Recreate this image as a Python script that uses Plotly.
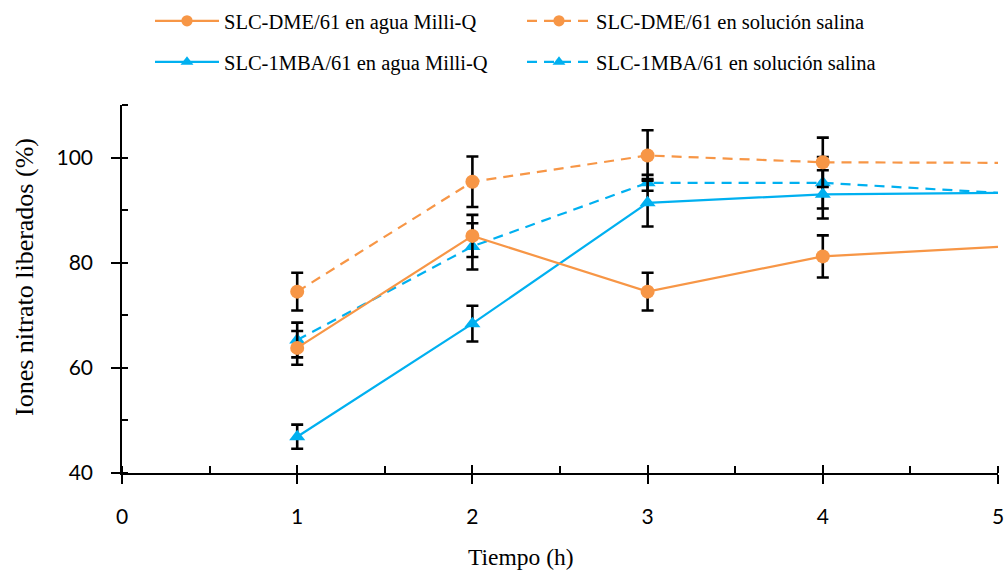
import plotly.graph_objects as go

# Release time (h)
tiempo = [1, 2, 3, 4, 5]

# Nitrate ions released (%); standard deviations exist for the first four samples
dme_milliq = [63.8, 85.1, 74.5, 81.2, 83.0]
dme_milliq_err = [3.2, 4.0, 3.6, 4.0]
dme_salina = [74.5, 95.4, 100.4, 99.1, 99.0]
dme_salina_err = [3.6, 4.8, 4.8, 4.7]
mba_milliq = [46.9, 68.4, 91.4, 93.0, 93.3]
mba_milliq_err = [2.3, 3.4, 4.5, 4.6]
mba_salina = [65.3, 83.1, 95.2, 95.2, 93.3]
mba_salina_err = [3.3, 4.4, 1.5, 4.9]

x_ticks = [0, 1, 2, 3, 4, 5]
y_ticks = [40, 60, 80, 100]

ORANGE = "#F79646"
BLUE = "#00B0F0"
SERIF = "Liberation Serif"
SANS = "Lato"

# the last sample point is drawn without a marker
marker_sizes = [14, 14, 14, 14, 0]


def series(name, y, err, color, symbol, dash, legend, rank):
    return go.Scatter(
        x=tiempo, y=y, name=name, mode="lines+markers",
        line=dict(color=color, width=2.2, dash=dash),
        marker=dict(color=color, symbol=symbol, size=marker_sizes,
                    opacity=1, line=dict(width=0)),
        error_y=dict(type="data", array=err, visible=True,
                     color="black", thickness=2.6, width=6),
        legend=legend, legendrank=rank,
    )


fig = go.Figure()
fig.add_trace(series("SLC-1MBA/61 en solución salina", mba_salina, mba_salina_err,
                     BLUE, "triangle-up", "10px,7px", "legend2", 2))
fig.add_trace(series("SLC-1MBA/61 en agua Milli-Q", mba_milliq, mba_milliq_err,
                     BLUE, "triangle-up", "solid", "legend2", 1))
fig.add_trace(series("SLC-DME/61 en solución salina", dme_salina, dme_salina_err,
                     ORANGE, "circle", "10px,7px", "legend", 2))
fig.add_trace(series("SLC-DME/61 en agua Milli-Q", dme_milliq, dme_milliq_err,
                     ORANGE, "circle", "solid", "legend", 1))

# empty trace carrying the overlay axes that draw the inner half of the major ticks
fig.add_trace(go.Scatter(x=[], y=[], xaxis="x2", yaxis="y2",
                         showlegend=False, hoverinfo="skip"))

tick_font = dict(family=SANS, size=21, color="black")
legend_font = dict(family=SERIF, size=20.5, color="black")

fig.update_layout(
    width=1006, height=575,
    margin=dict(l=122, r=8, t=105, b=102, autoexpand=False),
    paper_bgcolor="white", plot_bgcolor="white",
    showlegend=True,
    xaxis=dict(
        range=[0, 5], tickvals=x_ticks, ticktext=[str(v) for v in x_ticks],
        ticks="outside", ticklen=9, tickwidth=1.6, tickcolor="black",
        showline=True, linecolor="black", linewidth=1.6,
        showgrid=False, zeroline=False, tickfont=tick_font,
        ticklabelstandoff=15, automargin=False,
        minor=dict(dtick=0.5, tick0=0, ticks="inside", ticklen=7,
                   tickwidth=1.6, tickcolor="black", showgrid=False),
    ),
    yaxis=dict(
        range=[40, 110], tickvals=y_ticks, ticktext=[str(v) for v in y_ticks],
        ticks="outside", ticklen=9, tickwidth=1.6, tickcolor="black",
        showline=True, linecolor="black", linewidth=1.6,
        showgrid=False, zeroline=False, tickfont=tick_font,
        ticklabelstandoff=14, automargin=False,
        minor=dict(dtick=10, tick0=40, ticks="inside", ticklen=6,
                   tickwidth=1.6, tickcolor="black", showgrid=False),
    ),
    xaxis2=dict(
        overlaying="x", anchor="y2", side="bottom", range=[0, 5],
        tickvals=x_ticks, ticks="inside", ticklen=8, tickwidth=1.6,
        tickcolor="black", showticklabels=False, showline=False,
        showgrid=False, zeroline=False, automargin=False,
    ),
    yaxis2=dict(
        overlaying="y", anchor="x2", side="left", range=[40, 110],
        tickvals=y_ticks, ticks="inside", ticklen=6, tickwidth=1.6,
        tickcolor="black", showticklabels=False, showline=False,
        showgrid=False, zeroline=False, automargin=False,
    ),
    legend=dict(
        orientation="h", xref="container", yref="container",
        x=150 / 1006, xanchor="left", y=1 - 21 / 575, yanchor="middle",
        font=legend_font, entrywidth=293, itemwidth=64,
        bgcolor="rgba(0,0,0,0)", traceorder="normal",
    ),
    legend2=dict(
        orientation="h", xref="container", yref="container",
        x=150 / 1006, xanchor="left", y=1 - 62 / 575, yanchor="middle",
        font=legend_font, entrywidth=293, itemwidth=64,
        bgcolor="rgba(0,0,0,0)", traceorder="normal",
    ),
    annotations=[
        dict(text="Tiempo (h)", xref="paper", yref="paper",
             x=(521 - 122) / 876, y=0, yshift=-(557 - 473),
             xanchor="center", yanchor="middle", showarrow=False,
             font=dict(family=SERIF, size=23.5, color="black")),
        dict(text="Iones nitrato liberados (%)", xref="paper", yref="paper",
             x=0, xshift=-(122 - 24), y=(473 - 277) / 368,
             xanchor="center", yanchor="middle", textangle=-90, showarrow=False,
             font=dict(family=SERIF, size=26, color="black")),
    ],
)

fig.write_html("out.html")
